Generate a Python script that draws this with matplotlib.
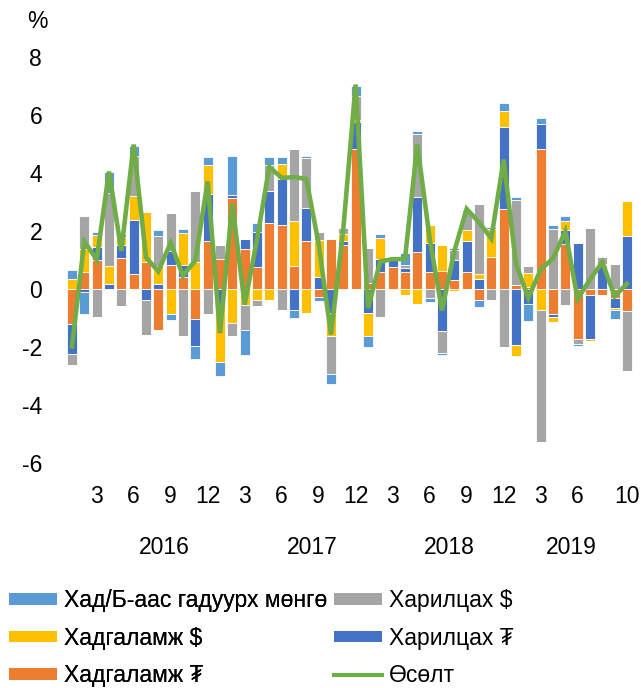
import numpy as np
import matplotlib
matplotlib.use("Agg")
import matplotlib.pyplot as plt
from matplotlib.patches import Patch
from matplotlib.lines import Line2D
from matplotlib import font_manager

# ---------------- data ----------------
month_labels = ["", "", "3", "", "", "6", "", "", "9", "", "", "12",
                "", "", "3", "", "", "6", "", "", "9", "", "", "12",
                "", "", "3", "", "", "6", "", "", "9", "", "", "12",
                "", "", "3", "", "", "6", "", "", "", "10"]
years = ["2016", "2017", "2018", "2019"]
year_pos = [7.5, 19.5, 30.6, 40.5]

labels = ["Хад/Б-аас гадуурх мөнгө", "Харилцах $", "Хадгаламж $", "Харилцах ₮", "Хадгаламж ₮", "Өсөлт"]

hadg_mnt = [-1.21, 0.57, 1.00, -0.05, 1.08, 0.53, 0.92, -1.40, 0.84, 0.41, -1.03, 1.67,
            1.05, 3.14, 1.39, 0.76, 2.29, 2.22, 0.78, 1.67, -0.29, 1.72, 1.53, 4.84,
            0.20, 0.57, 0.76, 0.59, 1.26, 0.57, 0.61, 0.32, 0.57, -0.37, 1.09, 2.76,
            0.13, 0.07, 4.84, -0.85, 1.55, -1.72, -0.22, -0.22, -0.32, -0.77]
harilts_mnt = [-1.03, -0.11, 0.46, 0.17, 0.45, 1.84, -0.39, 0.18, 0.46, 0.41, -0.92, 1.59,
               -0.60, 0.11, 0.34, 1.21, 1.08, 1.57, -0.71, 1.13, 0.41, -0.83, 0.14, 0.91,
               -0.83, 0.46, 0.29, 0.14, 1.90, 1.01, -1.44, 0.69, 1.07, 0.36, 0.00, 2.82,
               -1.92, -0.52, 0.86, -0.13, 0.47, 1.59, -1.51, 0.78, -0.33, 1.82]
hadg_usd = [0.36, 0.82, 0.39, 0.64, 0.26, 0.82, 1.72, 0.60, -0.86, 1.10, 0.92, 1.00,
            -1.93, -1.17, -0.54, -0.37, -0.37, 0.53, 1.56, -0.83, 1.29, -0.78, 0.24, 0.09,
            -0.80, 0.72, -0.05, -0.22, -0.51, 0.63, 0.90, -0.08, 0.40, 0.14, 0.99, 0.55,
            -0.38, 0.48, -0.71, -0.17, 0.34, 0.00, -0.05, 0.07, -0.09, 1.21]
harilts_usd = [-0.37, 1.11, -0.95, 2.49, -0.57, 1.41, -1.20, 1.06, 1.32, -1.61, 2.47, -0.85,
               0.47, -0.46, -0.86, -0.21, 0.89, -0.74, 2.48, 1.70, 0.26, -1.32, 0.21, 0.83,
               1.21, -0.97, 0.00, 0.11, 2.20, -0.32, -0.77, 0.34, 0.63, 2.44, -0.39, -2.00,
               2.93, 0.25, -4.57, 2.07, -0.54, -0.16, 2.10, 0.25, 0.87, -2.07]
gadnah = [0.29, -0.75, 0.13, 0.74, 0.11, 0.34, 0.03, 0.18, -0.20, 0.15, -0.45, 0.29,
          -0.48, 1.32, -0.86, 0.31, 0.30, 0.22, -0.29, 0.09, -0.11, -0.33, -0.05, 0.34,
          -0.37, 0.16, 0.00, 0.40, 0.10, -0.14, -0.06, 0.06, 0.06, -0.25, 0.06, 0.29,
          0.11, -0.60, 0.20, 0.15, 0.14, -0.07, -0.03, 0.02, -0.31, 0.00]
growth = [-1.98, 1.64, 1.01, 4.05, 1.32, 4.98, 1.09, 0.61, 1.59, 0.46, 0.98, 3.71,
          -1.52, 2.94, -0.54, 1.70, 4.21, 3.83, 3.86, 3.79, 1.56, -1.57, 2.07, 7.05,
          -0.66, 0.95, 1.03, 1.03, 4.98, 1.75, -0.74, 1.30, 2.76, 2.30, 1.74, 4.46,
          0.87, -0.31, 0.67, 1.05, 1.99, -0.34, 0.32, 0.93, -0.25, 0.18]

# ---------------- style ----------------
avail = {f.name for f in font_manager.fontManager.ttflist}
if "Liberation Sans Narrow" in avail:
    base = "Liberation Sans Narrow"
    FS = 18
else:
    base = "Liberation Sans" if "Liberation Sans" in avail else "DejaVu Sans"
    FS = 16.5
plt.rcParams["font.family"] = [base, "DejaVu Sans"]

c_gadnah = "#5B9BD5"
c_hus = "#A5A5A5"
c_hgus = "#FFC000"
c_hmnt = "#4472C4"
c_gmnt = "#ED7D31"
c_growth = "#70AD47"

fig = plt.figure(figsize=(6.41, 6.88), dpi=100)
ax = fig.add_axes([0.1027, 0.327, 0.885, 0.5902])

x = np.arange(len(month_labels))
series = [
    (hadg_mnt, c_gmnt),
    (harilts_mnt, c_hmnt),
    (hadg_usd, c_hgus),
    (harilts_usd, c_hus),
    (gadnah, c_gadnah),
]
pos_base = np.zeros(len(x))
neg_base = np.zeros(len(x))
for vals, col in series:
    v = np.array(vals, dtype=float)
    p = np.where(v > 0, v, 0)
    n = np.where(v < 0, v, 0)
    ax.bar(x, p, bottom=pos_base, width=0.8, color=col, edgecolor="white", linewidth=0.6)
    ax.bar(x, n, bottom=neg_base, width=0.8, color=col, edgecolor="white", linewidth=0.6)
    pos_base += p
    neg_base += n

ax.plot(x, growth, color=c_growth, linewidth=3.3, solid_joinstyle="miter", zorder=5)

ax.set_xlim(-0.5, len(x) - 0.5)
ax.set_ylim(-6, 8)
ax.set_yticks(np.arange(-6, 9, 2))
ax.set_yticklabels([str(v) for v in range(-6, 9, 2)], fontsize=FS)
tick_idx = [i for i, s in enumerate(month_labels) if s]
ax.set_xticks(tick_idx)
ax.set_xticklabels([month_labels[i] for i in tick_idx], fontsize=FS)
ax.tick_params(axis="both", length=0)
ax.tick_params(axis="x", pad=16)
ax.tick_params(axis="y", pad=17)
for s in ax.spines.values():
    s.set_visible(False)

trans = matplotlib.transforms.blended_transform_factory(ax.transData, fig.transFigure)
for yr, xp in zip(years, year_pos):
    ax.text(xp, 1 - 547 / 688, yr, transform=trans, ha="center", va="center", fontsize=FS)

fig.text(37 / 641, 1 - 22 / 688, "%", ha="center", va="center", fontsize=FS)

h1 = [Patch(facecolor=c_gadnah, edgecolor="none"),
      Patch(facecolor=c_hgus, edgecolor="none"),
      Patch(facecolor=c_gmnt, edgecolor="none")]
l1 = [labels[0], labels[2], labels[4]]
h2 = [Patch(facecolor=c_hus, edgecolor="none"),
      Patch(facecolor=c_hmnt, edgecolor="none"),
      Line2D([0], [0], color=c_growth, linewidth=3)]
l2 = [labels[1], labels[3], labels[5]]

common = dict(loc="upper left", frameon=False, fontsize=FS,
              handlelength=2.1, handleheight=0.4, handletextpad=0.28,
              labelspacing=0.64, borderaxespad=0.0, borderpad=0.0)
leg1 = fig.legend(h1, l1, bbox_to_anchor=(9 / 641, 1 - 589 / 688), **common)
fig.add_artist(leg1)
leg2 = fig.legend(h2, l2, bbox_to_anchor=(334 / 641, 1 - 589 / 688), **common)

fig.savefig("out.png", dpi=100)
